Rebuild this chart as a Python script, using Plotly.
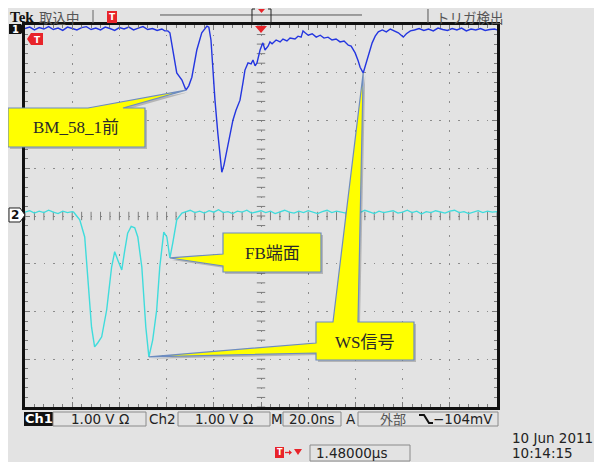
import numpy as np
import plotly.graph_objects as go

# ---------------- data (time in ns, amplitude in V; 1 V/div, 20 ns/div) ----------------
CH1_T = [
    -100, -98, -96, -94, -92, -90, -88, -86, -84, -82,
    -80, -78, -76, -74, -72, -70, -68, -66, -64, -62,
    -60, -58, -56, -54, -52, -50, -48, -46, -44, -42,
    -40.8, -39.5, -38.6, -37.4, -35.7, -33.5, -31.8, -30.6, -29.3, -27.2,
    -25.1, -22.9, -22.1, -21.2, -20.4, -19.5, -18.3, -17.4, -16.6, -15.7,
    -14.4, -13.2, -11.9, -10.6, -8.9, -7.6, -6.8, -5.5, -4.2, -3.4,
    -2.5, -1.7, -0.4, 0.8, 1.7, 3.0, 3.8, 4.7, 6.4, 8.1,
    9.3, 11.0, 12.3, 14.4, 15.7, 17.0, 17.8, 18.7, 20.0, 21.7,
    23.4, 25.1, 26.7, 28.4, 30.1, 31.8, 33.5, 35.2, 37.0, 38.2,
    39.9, 41.2, 42.0, 43.3, 44.6, 45.9, 47.1, 48.4, 49.7, 51.4,
    53.1, 54.8, 56.5, 58.2, 59.4, 60.3, 61.6, 63.3, 65, 67,
    69, 71, 73, 75, 77, 79, 81, 83, 85, 87,
    89, 91, 93, 95, 97, 99, 100,
]
CH1_V = [
    0.01, 0.04, -0.02, 0.03, 0.00, 0.05, -0.01, 0.02, -0.03, 0.04,
    0.01, -0.02, 0.03, 0.05, -0.01, 0.02, -0.02, 0.04, 0.01, -0.03,
    0.03, 0.00, 0.04, -0.02, 0.02, 0.05, -0.01, 0.01, -0.03, 0.00,
    -0.04, -0.04, -0.08, -0.44, -0.92, -1.07, -1.28, -1.19, -1.01, -0.44,
    -0.08, 0.06, 0.04, -0.23, -0.96, -1.49, -2.18, -2.64, -3.00, -2.85,
    -2.53, -2.24, -1.91, -1.70, -1.49, -1.11, -0.86, -0.71, -0.73, -0.65,
    -0.77, -0.71, -0.44, -0.29, -0.44, -0.36, -0.27, -0.31, -0.23, -0.27,
    -0.21, -0.25, -0.19, -0.21, -0.15, -0.17, -0.04, -0.08, -0.13, -0.10,
    -0.17, -0.13, -0.19, -0.17, -0.23, -0.21, -0.27, -0.25, -0.34, -0.36,
    -0.50, -0.67, -0.80, -0.92, -0.69, -0.48, -0.29, -0.15, -0.06, -0.02,
    -0.06, 0.00, -0.04, -0.08, -0.13, -0.17, -0.10, -0.04, -0.02, 0.01,
    -0.03, 0.00, -0.04, 0.02, -0.01, -0.03, 0.01, -0.02, 0.02, -0.04,
    0.00, -0.02, 0.01, -0.03, -0.01, 0.00, -0.02,
]
CH2_T = [
    -100, -98, -96, -94, -92, -90, -88, -86, -84, -82,
    -80, -79.4, -78.1, -76.8, -74.7, -73.5, -71.8, -70.5, -69.2, -67.5,
    -65.4, -63.3, -62.0, -60.7, -59.0, -57.7, -56.5, -55.0, -53.5, -52.2,
    -50.5, -48.8, -47.5, -45.9, -44.2, -42.9, -41.2, -39.9, -38.6, -37.4,
    -35.7, -33.5, -32, -30, -28, -26, -24, -22, -20, -18,
    -16, -14, -12, -10, -8, -6, -4, -2, 0, 2,
    4, 6, 8, 10, 12, 14, 16, 18, 20, 22,
    24, 26, 28, 30, 32, 34, 36, 38, 40, 42,
    44, 46, 48, 50, 52, 54, 56, 58, 60, 62,
    64, 66, 68, 70, 72, 74, 76, 78, 80, 82,
    84, 86, 88, 90, 92, 94, 96, 98, 100,
]
CH2_V = [
    0.06, 0.09, 0.04, 0.08, 0.05, 0.10, 0.06, 0.03, 0.08, 0.05,
    0.07, 0.06, -0.02, -0.10, -0.46, -1.30, -2.35, -2.76, -2.68, -2.55,
    -1.99, -1.09, -0.77, -0.94, -1.15, -0.73, -0.38, -0.24, -0.27, -0.46,
    -1.09, -2.35, -2.97, -2.62, -1.99, -1.09, -0.36, -0.46, -0.90, -0.59,
    -0.10, 0.04, 0.07, 0.10, 0.05, 0.08, 0.04, 0.09, 0.06, 0.11,
    0.05, 0.07, 0.03, 0.08, 0.06, 0.10, 0.04, 0.07, 0.09, 0.05,
    0.08, 0.03, 0.07, 0.10, 0.06, 0.04, 0.08, 0.05, 0.09, 0.06,
    0.03, 0.07, 0.10, 0.05, 0.08, 0.06, 0.04, 0.09, 0.07, 0.05,
    0.10, 0.06, 0.03, 0.08, 0.05, 0.07, 0.09, 0.04, 0.06, 0.10,
    0.05, 0.08, 0.02, 0.07, 0.05, 0.09, 0.06, 0.04, 0.08, 0.10,
    0.05, 0.07, 0.03, 0.06, 0.09, 0.05, 0.08, 0.06, 0.07,
]
CH1_POS = 3.916   # divisions
CH2_POS = 0.021
# callout label -> list of (channel, time ns) targets
CALLOUT_TARGETS = {
    "BM_58_1前": [(1, -31.8)],
    "FB端面": [(2, -38.6)],
    "WS信号": [(1, 43.3), (2, -47.5)],
}
STATUS_TEXTS = ["Ch1", "1.00 V Ω", "Ch2", "1.00 V Ω", "M", "20.0ns", "A", "外部", "−104mV"]
DATE_TEXT = ["10 Jun 2011", "10:14:15"]
TRIG_POS_TEXT = "1.48000µs"

# ---------------- geometry ----------------
# page coordinates: the figure is placed at (8, 8) by the page's body margin
OFF = 8
PAGE_W, PAGE_H = 602, 462
GL, GT, GR, GB = 25, 25, 497, 407          # graticule edges on the page
W, H = PAGE_W - OFF, PAGE_H - OFF
ML, MT, MR, MB = GL - OFF, GT - OFF, PAGE_W - GR, PAGE_H - GB
PW, PH = GR - GL, GB - GT
XMIN, XMAX = -100, 100
YMIN, YMAX = -4, 4

def PX(x):
    return (x - GL) / PW

def PY(y):
    return (GB - y) / PH

def d2px(t, y):
    return (GL + (t - XMIN) / (XMAX - XMIN) * PW,
            GT + (YMAX - y) / (YMAX - YMIN) * PH)

def value_at(ch, t):
    ts, vs, pos = (CH1_T, CH1_V, CH1_POS) if ch == 1 else (CH2_T, CH2_V, CH2_POS)
    i = int(np.argmin(np.abs(np.array(ts) - t)))
    return ts[i], vs[i] + pos

def path(points, close=True):
    s = "M " + " L ".join(f"{PX(x):.5f},{PY(y):.5f}" for x, y in points)
    return s + (" Z" if close else "")

fig = go.Figure()

GRAY_BG = "#e3e3e3"
CN = "DejaVu Sans, Noto Sans CJK JP"
JP = "Noto Sans CJK JP"
SERIF = "Liberation Serif, Noto Sans CJK JP"

# center cross ticks
xt = np.arange(XMIN, XMAX + 0.01, 4)
yt = np.arange(YMIN, YMAX + 0.01, 0.2)
fig.add_trace(go.Scatter(x=xt, y=np.zeros_like(xt), mode="markers", hoverinfo="skip",
                         marker=dict(symbol="line-ns", size=6, line=dict(width=1, color="#7c7c7c"))))
fig.add_trace(go.Scatter(x=np.zeros_like(yt), y=yt, mode="markers", hoverinfo="skip",
                         marker=dict(symbol="line-ew", size=6, line=dict(width=1, color="#7c7c7c"))))

# waveforms
fig.add_trace(go.Scatter(x=CH1_T, y=[v + CH1_POS for v in CH1_V], mode="lines", name="Ch1",
                         line=dict(color="#2436e0", width=1.4)))
fig.add_trace(go.Scatter(x=CH2_T, y=[v + CH2_POS for v in CH2_V], mode="lines", name="Ch2",
                         line=dict(color="#3fdcdc", width=1.4)))

shapes = []
ann = []

def txt(x, y, s, size=13, color="#222", family=CN, xanchor="center", bold=False):
    ann.append(dict(x=PX(x), y=PY(y), xref="paper", yref="paper", text=(f"<b>{s}</b>" if bold else s),
                    showarrow=False, xanchor=xanchor, yanchor="middle",
                    font=dict(size=size, color=color, family=family)))

def rect(x0, y0, x1, y1, fill=None, line="#8a8a8a", lw=1, layer="above"):
    shapes.append(dict(type="rect", xref="paper", yref="paper", x0=PX(x0), x1=PX(x1),
                       y0=PY(y1), y1=PY(y0), fillcolor=fill if fill else "rgba(0,0,0,0)",
                       line=dict(color=line, width=lw), layer=layer))

def poly(points, fill, line=None, lw=1, close=True):
    shapes.append(dict(type="path", xref="paper", yref="paper", path=path(points, close),
                       fillcolor=fill if fill else "rgba(0,0,0,0)",
                       line=dict(color=line if line else "rgba(0,0,0,0)", width=lw if line else 0)))

# ---------------- callouts ----------------
def callout(points, label, cx, cy):
    poly([(x + 2, y + 2) for x, y in points], "rgba(60,60,60,0.28)")
    poly(points, "#ffff00", "#6d8cc0", 1.2)
    txt(cx, cy, label, size=17, color="#2a2a2a", family=SERIF)

tips = {k: [d2px(*value_at(ch, t)) for ch, t in v] for k, v in CALLOUT_TARGETS.items()}

bx = (8, 108, 145, 147)
callout([(bx[0], bx[1]), (88, bx[1]), tips["BM_58_1前"][0], (123, bx[1]), (bx[2], bx[1]),
         (bx[2], bx[3]), (bx[0], bx[3])], "BM_58_1前", 76, 128)
fb = (223, 233, 321, 272)
callout([(fb[0], fb[1]), (fb[2], fb[1]), (fb[2], fb[3]), (fb[0], fb[3]), (fb[0], 266),
         tips["FB端面"][0], (fb[0], 254)], "FB端面", 272, 254)
ws = (316, 322, 414, 360)
callout([(ws[0], ws[1]), (333, ws[1]), tips["WS信号"][0], (358, ws[1]), (ws[2], ws[1]),
         (ws[2], ws[3]), (ws[0], ws[3]), (ws[0], 353), tips["WS信号"][1], (ws[0], 343)],
        "WS信号", 365, 342)

# ---------------- top status ----------------
txt(8, 17, "Tek", size=15, color="#111", family="Liberation Serif", xanchor="left", bold=True)
txt(37, 17, "取込中", size=13.5, color="#555", family=JP, xanchor="left")
poly([(93, 10), (93, 23)], None, "#666", 1, close=False)
rect(107, 11, 117, 23, fill="#e8242a", line="#e8242a", lw=0)
txt(112, 17, "T", size=9, color="white", family="DejaVu Sans", bold=True)
poly([(160, 15), (362, 15)], None, "#555", 1, close=False)
poly([(255, 9), (252, 9), (252, 23), (255, 23)], None, "#222", 1, close=False)
poly([(268, 9), (271, 9), (271, 23), (268, 23)], None, "#222", 1, close=False)
poly([(258, 9), (265, 9), (261.5, 13)], "#e8242a")
poly([(428, 9), (428, 23)], None, "#555", 1, close=False)
txt(434, 17, "トリガ検出", size=13.5, color="#555", family=JP, xanchor="left")
# trigger position marker
tx, _ = d2px(0, 0)
poly([(tx - 6, 26), (tx + 6, 26), (tx, 33)], "#e8242a")

# ---------------- channel markers ----------------
_, y1 = d2px(0, CH1_POS)
poly([(9, y1 - 5), (21, y1 - 5), (25, y1), (21, y1 + 5), (9, y1 + 5)], "#111")
txt(15, y1, "1", size=10, color="white", family="DejaVu Sans", bold=True)
poly([(27, 39), (31, 33), (43, 33), (43, 45), (31, 45)], "#e8242a")
txt(37, 39.5, "T", size=9, color="white", family="DejaVu Sans", bold=True)
_, y2 = d2px(0, CH2_POS)
poly([(9, y2 - 7), (20, y2 - 7), (25, y2), (20, y2 + 7), (9, y2 + 7)], "white", "#222", 1)
txt(15, y2, "2", size=12, color="#111", family="DejaVu Sans", bold=True)

# ---------------- bottom status ----------------
yb0, yb1 = 412, 426
yc = (yb0 + yb1) / 2
rect(24, yb0, 53, yb1, fill="#111", line="#111", lw=0)
txt(38.5, yc, STATUS_TEXTS[0], size=13, color="white", bold=True)
rect(53, yb0, 146, yb1)
txt(99.5, yc, STATUS_TEXTS[1], size=13.5)
txt(162, yc, STATUS_TEXTS[2], size=13.5)
rect(178, yb0, 270, yb1)
txt(224, yc, STATUS_TEXTS[3], size=13.5)
txt(276.5, yc, STATUS_TEXTS[4], size=13.5)
rect(283, yb0, 341, yb1)
txt(312, yc, STATUS_TEXTS[5], size=13.5)
txt(351, yc, STATUS_TEXTS[6], size=13.5)
rect(358, yb0, 498, yb1)
txt(378, yc, STATUS_TEXTS[7], size=13, color="#555", family=JP, xanchor="left")
poly([(419, yb0 + 3), (424, yb0 + 3), (429, yb1 - 3), (433, yb1 - 3)], None, "#111", 2, close=False)
txt(495, yc, STATUS_TEXTS[8], size=13.5, xanchor="right")

# trigger time row
rect(275, 447, 284, 458, fill="#e8242a", line="#e8242a", lw=0)
txt(279.5, 452.5, "T", size=8, color="white", family="DejaVu Sans", bold=True)
poly([(285, 452.5), (291, 452.5)], None, "#e8242a", 1.3, close=False)
poly([(289, 450), (292, 452.5), (289, 455)], "#e8242a")
poly([(294, 449), (302, 449), (298, 455)], "#e8242a")
rect(310, 445, 410, 461)
txt(314, 453, TRIG_POS_TEXT, size=13.5, xanchor="left")

txt(510, 438, DATE_TEXT[0], size=13.5, xanchor="left")
txt(510, 453, DATE_TEXT[1], size=13.5, xanchor="left")

axis_common = dict(showline=True, linewidth=3, linecolor="#111", mirror="allticks",
                   ticks="inside", ticklen=5, tickcolor="#7c7c7c", tickwidth=1,
                   showticklabels=False, zeroline=False, showgrid=True,
                   gridcolor="#8c8c8c", gridwidth=1, fixedrange=True)
fig.update_xaxes(range=[XMIN, XMAX], tick0=XMIN, dtick=20, griddash="1.5px,8.05px",
                 minor=dict(dtick=4, ticks="inside", ticklen=3, tickcolor="#7c7c7c", showgrid=False),
                 **axis_common)
fig.update_yaxes(range=[YMIN, YMAX], tick0=YMIN, dtick=1, griddash="1.5px,7.92px",
                 minor=dict(dtick=0.2, ticks="inside", ticklen=3, tickcolor="#7c7c7c", showgrid=False),
                 **axis_common)

fig.update_layout(width=W, height=H, margin=dict(l=ML, r=MR, t=MT, b=MB, pad=0),
                  paper_bgcolor=GRAY_BG, plot_bgcolor=GRAY_BG, showlegend=False,
                  shapes=shapes, annotations=ann)
fig.write_html("out.html")
